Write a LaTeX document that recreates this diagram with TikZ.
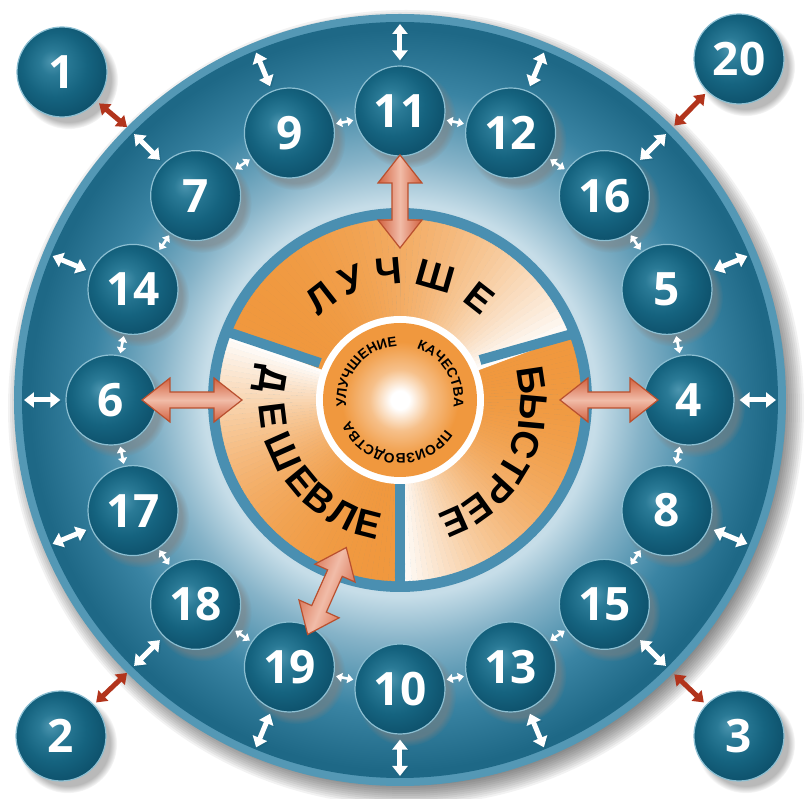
\documentclass[tikz,border=0pt]{standalone}
\usepackage{fontspec}
\setmainfont{Liberation Sans}
\newfontfamily\numfont{Open Sans}
\newfontfamily\wordfont{Liberation Sans}
\usetikzlibrary{calc,arrows.meta,shadows,decorations.text}

\definecolor{ringdark}{HTML}{1E6886}
\definecolor{ringmid}{HTML}{3A84A3}
\definecolor{ringlm}{HTML}{86B3C8}
\definecolor{ringlight}{HTML}{C6DDE8}
\definecolor{ringedge}{HTML}{5498B5}
\definecolor{hubblue}{HTML}{4A8FB1}
\definecolor{orng}{HTML}{F0983E}
\definecolor{orngmix}{HTML}{F6C08A}
\definecolor{bhi}{HTML}{4C95AF}
\definecolor{bhimid}{HTML}{2A7A96}
\definecolor{bmid}{HTML}{15637F}
\definecolor{bdark}{HTML}{0B4B65}
\definecolor{bedge}{HTML}{8CBFD2}
\definecolor{redarr}{HTML}{B2341C}
\definecolor{salmon}{HTML}{D2613F}
\definecolor{salmonlt}{HTML}{F1BCA8}
\definecolor{salmonln}{HTML}{B9502F}
\definecolor{arrshadow}{HTML}{1A5E78}

\pgfdeclareradialshading{ringsh}{\pgfpoint{0bp}{0bp}}{color(0bp)=(ringlight); color(13bp)=(ringlight); color(16bp)=(ringlm); color(20.5bp)=(ringmid); color(24.5bp)=(ringdark); color(25bp)=(ringdark); color(50bp)=(ringdark)}
\pgfdeclareradialshading{spheresh}{\pgfpoint{-6bp}{6bp}}{color(0bp)=(bhi); color(7bp)=(bhimid); color(18bp)=(bmid); color(32bp)=(bdark); color(50bp)=(bdark)}
\pgfdeclareradialshading{coresh}{\pgfpoint{0bp}{0bp}}{color(0bp)=(white); color(3bp)=(white); color(10bp)=(orngmix); color(19bp)=(orng); color(25bp)=(orng); color(50bp)=(orng)}

\newcommand\salarrow[4]{%
  \coordinate (#1p) at ($(#2)!28pt!(#3)$);
  \coordinate (#1q) at ($(#3)!28pt!(#2)$);
  \draw[salarr, shading angle=#4] (#2) -- ($(#1p)!22pt!90:(#3)$) -- ($(#1p)!8pt!90:(#3)$)
    -- ($(#1q)!8pt!-90:(#2)$) -- ($(#1q)!22pt!-90:(#2)$) -- (#3)
    -- ($(#1q)!22pt!90:(#2)$) -- ($(#1q)!8pt!90:(#2)$)
    -- ($(#1p)!8pt!-90:(#3)$) -- ($(#1p)!22pt!-90:(#3)$) -- cycle;
}

\begin{document}
\begin{tikzpicture}[x=1pt,y=1pt,
  ball/.style={circle, minimum size=90pt, inner sep=0pt, shading=spheresh, draw=bedge, line width=1.2pt,
    text=white, font=\numfont\bfseries\fontsize{46}{46}\selectfont,
    circular drop shadow={shadow xshift=6pt, shadow yshift=-7pt, opacity=0.55}},
  warr/.style={draw=white, line width=5pt, {Triangle[length=10pt,width=15pt]}-{Triangle[length=10pt,width=15pt]},
    preaction={draw=arrshadow, opacity=0.35, transform canvas={xshift=1.5pt, yshift=-1.5pt}}},
  sarr/.style={draw=white, line width=2.6pt, {Triangle[length=6pt,width=9pt]}-{Triangle[length=6pt,width=9pt]}, shorten <=2pt, shorten >=2pt},
  rarr/.style={draw=redarr, line width=5pt, {Triangle[length=10pt,width=14pt]}-{Triangle[length=10pt,width=14pt]}},
  salarr/.style={draw=salmonln, line width=1.2pt, top color=salmon, bottom color=salmon, middle color=salmonlt},
  bigword/.style={font=\wordfont\bfseries\fontsize{38}{38}\selectfont, anchor=base, inner sep=0pt},
]
\useasboundingbox (-400,-399) rectangle (406,400);
\fill[white] (-400,-399) rectangle (406,400);

% disc shadow
\foreach \k in {0,...,11}{
  \fill[black, opacity=0.05] (6,-8) circle ({398-2*\k});
}
% ring
\fill[ringedge] (0,0) circle (386);
\shade[shading=ringsh] (0,0) circle (378);

% hub
\fill[hubblue] (0,0) circle (192);
\foreach \s/\e in {159/20.5, 20.5/-90, 270/159}{
  \foreach \i in {0,...,59}{
    \pgfmathsetmacro\a{\s+(\e-\s)*\i/60}
    \pgfmathsetmacro\b{\s+(\e-\s)*(\i+1)/60}
    \pgfmathsetmacro\p{100*(1-((\i+0.5)/60)^2.4)}
    \fill[orng!\p!white, draw=orng!\p!white, line width=0.4pt] (0,0) -- (\a:181) arc[start angle=\a, end angle=\b, radius=181] -- cycle;
  }
}
\begin{scope}
  \clip (0,0) circle (186);
  \draw[hubblue, line width=10pt] (80,40) -- (190,71);
  \draw[hubblue, line width=10pt] (-80,37) -- (-190,74);
  \draw[hubblue, line width=10pt] (0,-70) -- (0,-190);
\end{scope}
\fill[white] (0,0) circle (84);
\shade[shading=coresh] (0,0) circle (77);

% inner text
\path[decorate, decoration={text along path, text align=center,
  text={|\wordfont\bfseries\fontsize{13.8}{13.8}\selectfont|УЛУЧШЕНИЕ}}]
  (188:54) arc[start angle=188, end angle=92, radius=54];
\path[decorate, decoration={text along path, text align=center,
  text={|\wordfont\bfseries\fontsize{13.8}{13.8}\selectfont|КАЧЕСТВА}}]
  (80:54) arc[start angle=80, end angle=-16, radius=54];
\path[decorate, decoration={text along path, text align=center,
  text={|\wordfont\bfseries\fontsize{13.8}{13.8}\selectfont|ПРОИЗВОДСТВА}}]
  (-20:54) arc[start angle=-20, end angle=-170, radius=54];

% big words (tops outward)
\foreach \l/\ang in {Л/128, У/112, Ч/95, Ш/74, Е/52}{
  \node[bigword, rotate=\ang-90] at (\ang:116) {\l};
}
\foreach \l/\ang in {Б/8.5, Ы/-5.2, С/-19.5, Т/-31.3, Р/-42.5, Е/-54.3, Е/-66.1}{
  \node[bigword, rotate=\ang-90] at (\ang:120) {\l};
}
% tops inward
\foreach \l/\ang in {Д/171, Е/187, Ш/204, Е/219.5, В/231, Л/243.5, Е/255.5}{
  \node[bigword, rotate=\ang+90] at (\ang:141) {\l};
}

% inner balls
\foreach \n/\ang in {11/90, 12/67.5, 16/45, 5/22.5, 4/0, 8/-22.5, 15/-45, 13/-67.5, 10/-90, 19/-112.5, 18/-135, 17/-157.5, 6/180, 14/157.5, 7/135, 9/112.5}{
  \coordinate (o\n) at (\ang:376);
}
\foreach \n/\ang in {11/90, 12/67.5, 16/45, 5/22.5, 4/0, 8/-22.5, 15/-45, 13/-67.5, 10/-90, 19/-112.5, 18/-135, 17/-157.5, 6/180, 14/157.5, 7/135, 9/112.5}{
  \node[ball] (b\n) at (\ang:289) {\n};
}
\foreach \n in {11,12,16,5,4,8,15,13,10,19,18,17,6,14,7,9}{
  \draw[warr, shorten <=5pt] (b\n) -- (o\n);
}
\foreach \a/\b in {11/12, 12/16, 16/5, 5/4, 4/8, 8/15, 15/13, 13/10, 10/19, 19/18, 18/17, 17/6, 6/14, 14/7, 7/9, 9/11}{
  \draw[sarr] (b\a) -- (b\b);
}

% corner balls
\node[ball] (c1) at (-338,328) {1};
\node[ball] (c20) at (339,341) {20};
\node[ball] (c2) at (-339,-336) {2};
\node[ball] (c3) at (339,-336) {3};
\coordinate (r1) at (135:386);
\coordinate (r20) at (45:388);
\coordinate (r2) at (225:386);
\coordinate (r3) at (-45:388);
\draw[rarr, shorten <=3pt] (c1) -- (r1);
\draw[rarr, shorten <=3pt] (c20) -- (r20);
\draw[rarr, shorten <=3pt] (c2) -- (r2);
\draw[rarr, shorten <=3pt] (c3) -- (r3);

% big salmon arrows
\coordinate (s11a) at (90:245);  \coordinate (s11b) at (90:152);
\coordinate (s6a) at (180:258);  \coordinate (s6b) at (180:158);
\coordinate (s4a) at (0:258);    \coordinate (s4b) at (0:160);
\coordinate (s19a) at (-111.5:252); \coordinate (s19b) at (-110:157);
\salarrow{k11}{s11a}{s11b}{90}
\salarrow{k6}{s6a}{s6b}{0}
\salarrow{k4}{s4a}{s4b}{0}
\salarrow{k19}{s19a}{s19b}{-111}
\end{tikzpicture}
\end{document}
